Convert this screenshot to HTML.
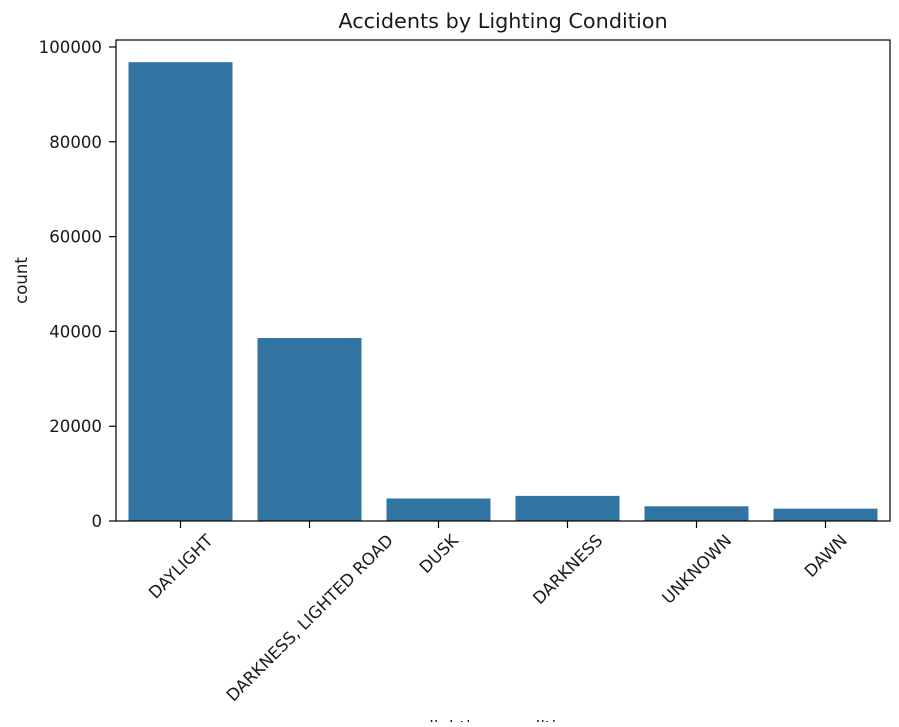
<!DOCTYPE html>
<html><head><meta charset="utf-8"><style>
body{margin:0;background:#fff;font-family:"Liberation Sans","DejaVu Sans",sans-serif;}
svg text{font-family:"DejaVu Sans","Liberation Sans",sans-serif;fill:#1a1a1a;}
</style></head><body>
<svg id="chart" width="899" height="722" xmlns="http://www.w3.org/2000/svg"></svg>
<script>
const categories=["DAYLIGHT","DARKNESS, LIGHTED ROAD","DUSK","DARKNESS","UNKNOWN","DAWN"];
const counts=[96800,38600,4750,5300,3100,2600];
const yTicks=[0,20000,40000,60000,80000,100000];
const L=116,R=890,T=40,B=521;
const yMax=100000,yPx100k=47;
const svg=document.getElementById('chart');
const NS="http://www.w3.org/2000/svg";
function y(v){return B-(B-yPx100k)*v/yMax;}
const step=(R-L)/categories.length;
function xc(i){return L+step*(i+0.5);}
function mk(tag,attrs,parent){const e=document.createElementNS(NS,tag);for(const k in attrs)e.setAttribute(k,attrs[k]);(parent||svg).appendChild(e);return e;}
counts.forEach((v,i)=>{
 const r=mk('rect',{x:xc(i)-52,y:y(v),width:104,height:B-y(v),fill:'#3274a1'});
 
 
});
yTicks.forEach(t=>{
 const ln=mk('line',{x1:L-7,x2:L,y1:y(t),y2:y(t),stroke:'#000','stroke-width':1.2});
 
 
 const tx=mk('text',{x:L-14,y:y(t)+6,'text-anchor':'end','font-size':16.6});
 tx.textContent=t;
 
 
});
categories.forEach((c,i)=>{
 const ln=mk('line',{x1:xc(i),x2:xc(i),y1:B,y2:B+7,stroke:'#000','stroke-width':1.2});
 
 
 const tx=mk('text',{x:0,y:0,'text-anchor':'middle','font-size':16.6});
 tx.textContent=c;
 
 
 const w=tx.getComputedTextLength();
 const bh=(w+12)*Math.SQRT1_2;
 const cy=B+12+bh/2;
 tx.setAttribute('transform',`translate(${xc(i)},${cy}) rotate(-45) translate(0,6)`);
});
const frame=mk('rect',{x:L,y:T,width:R-L,height:B-T,fill:'none',stroke:'#000','stroke-width':1.2});


const title=mk('text',{x:(L+R)/2+0,y:28,'text-anchor':'middle','font-size':20.8});
title.textContent='Accidents by Lighting Condition';


const yl=mk('text',{x:0,y:0,'text-anchor':'middle','font-size':16.6,transform:`translate(27,${(T+B)/2}) rotate(-90)`});
yl.textContent='count';


const xl=mk('text',{x:(L+R)/2,y:733,'text-anchor':'middle','font-size':16.6});
xl.textContent='lighting_condition';


</script>
</body></html>
